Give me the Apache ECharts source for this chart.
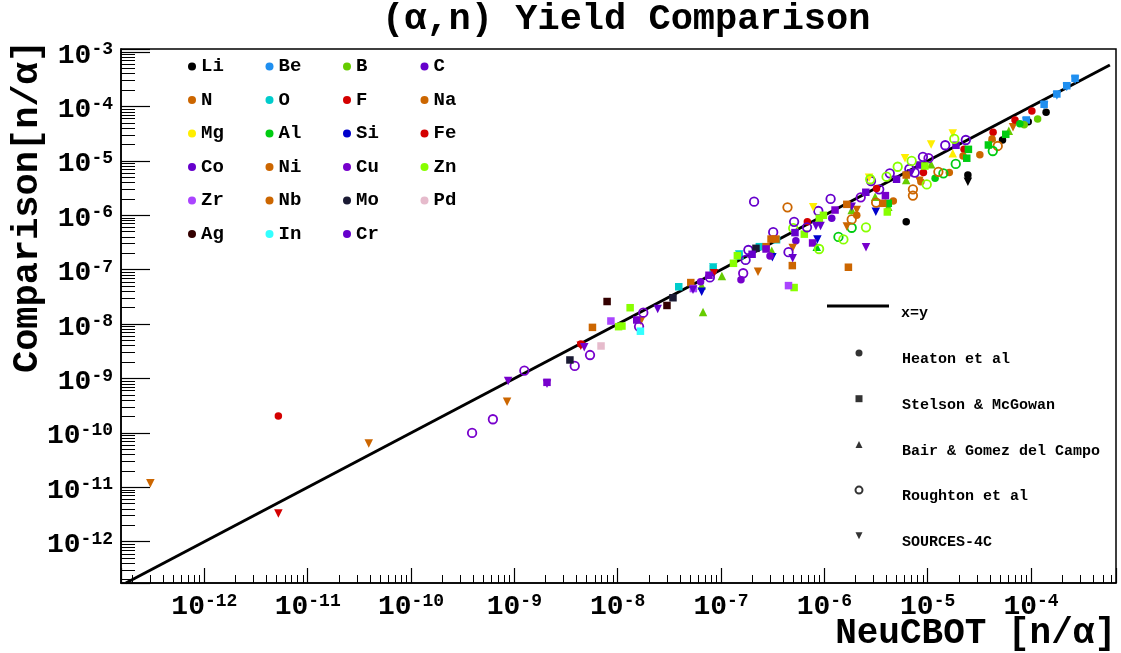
<!DOCTYPE html>
<html>
<head>
<meta charset="utf-8">
<script src="https://cdn.jsdelivr.net/npm/echarts@6/dist/echarts.min.js"></script>
<style>
html, body { margin: 0; padding: 0; background: #fff; }
#chart { width: 1121px; height: 653px; }
</style>
</head>
<body>
<div id="chart"></div>
<script>
(function() {

	// elements and their marker colours
	var elements = ['Li', 'Be', 'B', 'C', 'N', 'O', 'F', 'Na', 'Mg', 'Al', 'Si', 'Fe',
		'Co', 'Ni', 'Cu', 'Zn', 'Zr', 'Nb', 'Mo', 'Pd', 'Ag', 'In', 'Cr'];
	var elementColors = ['#000000', '#1f8ff0', '#66cc00', '#6600cc', '#cc6600', '#00cccc', '#d40000', '#cc6600',
		'#ffee00', '#00cc11', '#0000cc', '#d40000', '#6600cc', '#cc6600', '#7700cc', '#88ff00',
		'#aa44ff', '#cc6600', '#1a1a33', '#e6bbcc', '#330000', '#33ffff', '#6600cc'];

	// [NeuCBOT, comparison, element]
	var heaton = [
		[5.2e-12, 2.05e-10, 'F'], [4.4e-9, 4.3e-9, 'Fe'], [6.35e-8, 6.0e-8, 'Cu'], [1.56e-7, 6.5e-8, 'Cu'],
		[2.98e-7, 1.79e-7, 'Cu'], [5.3e-7, 3.4e-7, 'Co'], [6.85e-7, 7.6e-7, 'Fe'], [1.18e-6, 8.8e-7, 'Co'],
		[2.06e-6, 1.0e-6, 'Na'], [3.2e-6, 3.1e-6, 'F'], [4.65e-6, 1.83e-6, 'Na'], [6.2e-6, 7.6e-7, 'Li'],
		[8.6e-6, 4.15e-6, 'Na'], [9.1e-6, 6.1e-6, 'F'], [1.18e-5, 4.8e-6, 'Al'], [1.62e-5, 6.1e-6, 'Na'],
		[2.2e-5, 1.23e-5, 'Na'], [2.25e-5, 1.63e-5, 'F'], [2.45e-5, 5.5e-6, 'Li'], [3.2e-5, 1.3e-5, 'Na'],
		[4.2e-5, 2.53e-5, 'Na'], [4.3e-5, 3.36e-5, 'F'], [5.3e-5, 2.42e-5, 'Li'], [7.0e-5, 5.65e-5, 'F'],
		[7.8e-5, 4.8e-5, 'Al'], [8.6e-5, 4.6e-5, 'B'], [9.4e-5, 5.26e-5, 'Li'], [1.02e-4, 8.26e-5, 'F'],
		[1.16e-4, 5.9e-5, 'B'], [1.4e-4, 7.8e-5, 'Li']
	];
	var stelson = [
		[2.07e-9, 8.5e-10, 'Cu'], [3.45e-9, 2.19e-9, 'Mo'], [5.7e-9, 8.7e-9, 'Nb'], [6.9e-9, 3.96e-9, 'Pd'],
		[7.9e-9, 2.6e-8, 'Ag'], [8.6e-9, 1.14e-8, 'Zr'], [1.02e-8, 8.96e-9, 'Zn'], [1.1e-8, 9.2e-9, 'Zn'],
		[1.32e-8, 2.0e-8, 'Zn'], [1.53e-8, 1.19e-8, 'Cu'], [1.66e-8, 7.4e-9, 'In'], [3.0e-8, 2.2e-8, 'Ag'],
		[3.43e-8, 3.05e-8, 'Mo'], [3.9e-8, 4.86e-8, 'O'], [5.1e-8, 5.8e-8, 'Ni'], [5.4e-8, 4.5e-8, 'Zr'],
		[7.65e-8, 7.9e-8, 'Cu'], [8.4e-8, 1.04e-7, 'O'], [1.32e-7, 1.31e-7, 'Zn'], [1.44e-7, 1.81e-7, 'Zn'],
		[1.5e-7, 1.79e-7, 'O'], [2.0e-7, 1.92e-7, 'Cr'], [2.18e-7, 2.47e-7, 'Mo'], [2.35e-7, 2.65e-7, 'O'],
		[2.73e-7, 2.65e-7, 'Ni'], [2.73e-7, 2.4e-7, 'Cu'], [3.05e-7, 3.66e-7, 'Ni'], [3.4e-7, 3.66e-7, 'Nb'],
		[3.45e-7, 3.55e-7, 'O'], [4.5e-7, 5.1e-8, 'Zr'], [4.9e-7, 1.19e-7, 'Nb'], [5.1e-7, 4.7e-8, 'Zn'],
		[5.2e-7, 4.8e-7, 'Cr'], [6.4e-7, 4.5e-7, 'Zn'], [7.7e-7, 3.1e-7, 'Cu'], [8.95e-7, 8.8e-7, 'Zn'],
		[9.8e-7, 1.0e-6, 'Zn'], [1.27e-6, 1.25e-6, 'Cu'], [1.65e-6, 1.59e-6, 'Nb'], [1.71e-6, 1.11e-7, 'Ni'],
		[2.52e-6, 2.65e-6, 'Co'], [3.67e-6, 1.66e-6, 'Ni'], [3.9e-6, 2.3e-6, 'Cu'], [4.07e-6, 1.15e-6, 'Zn'],
		[4.16e-6, 1.66e-6, 'Al'], [5.0e-6, 4.6e-6, 'C'], [6.2e-6, 5.5e-6, 'Ni'], [8.3e-6, 8.4e-6, 'C'],
		[9.4e-6, 8.05e-6, 'Zn'], [1.88e-5, 1.94e-5, 'C'], [2.39e-5, 1.12e-5, 'Al'], [2.48e-5, 1.63e-5, 'Al'],
		[3.87e-5, 1.96e-5, 'Al'], [5.7e-5, 3.08e-5, 'Al'], [9.0e-5, 5.65e-5, 'Be'], [1.34e-4, 1.1e-4, 'Be'],
		[1.78e-4, 1.7e-4, 'Be'], [2.22e-4, 2.41e-4, 'Be'], [2.67e-4, 3.3e-4, 'Be']
	];
	var bair = [
		[6.5e-8, 5.1e-8, 'B'], [6.7e-8, 1.67e-8, 'B'], [1.02e-7, 7.65e-8, 'B'], [1.53e-7, 1.9e-7, 'O'],
		[3.1e-7, 2.23e-7, 'B'], [8.45e-7, 2.65e-7, 'Al'], [1.84e-6, 1.25e-6, 'B'], [3.1e-6, 2.2e-6, 'B'],
		[4.16e-6, 1.44e-6, 'B'], [6.2e-6, 4.46e-6, 'B'], [1.08e-5, 8.7e-6, 'B'], [1.75e-5, 1.38e-5, 'Mg'],
		[4.2e-5, 2.75e-5, 'B'], [6.1e-5, 3.6e-5, 'B']
	];
	var roughton = [
		[3.9e-10, 1.0e-10, 'Cu'], [6.2e-10, 1.78e-10, 'Cu'], [1.25e-9, 1.39e-9, 'Cu'], [3.84e-9, 1.7e-9, 'Cu'],
		[5.4e-9, 2.7e-9, 'Cu'], [1.61e-8, 9.0e-9, 'Cu'], [1.77e-8, 1.62e-8, 'Cu'], [7.8e-8, 7.2e-8, 'Co'],
		[1.64e-7, 8.6e-8, 'Cu'], [1.73e-7, 1.51e-7, 'Co'], [1.84e-7, 2.3e-7, 'Co'], [2.09e-7, 1.78e-6, 'C'],
		[3.2e-7, 4.9e-7, 'Co'], [4.4e-7, 1.4e-6, 'N'], [4.5e-7, 2.1e-7, 'Cr'], [5.0e-7, 5.8e-7, 'Zn'],
		[5.1e-7, 7.6e-7, 'Cr'], [6.8e-7, 6.0e-7, 'Cr'], [8.75e-7, 1.2e-6, 'C'], [8.9e-7, 2.4e-7, 'Zn'],
		[1.15e-6, 2.0e-6, 'C'], [1.37e-6, 4.0e-7, 'Al'], [1.53e-6, 3.6e-7, 'Zn'], [1.84e-6, 5.9e-7, 'Al'],
		[1.84e-6, 8.4e-7, 'Ni'], [2.25e-6, 2.14e-6, 'Cu'], [2.53e-6, 6.0e-7, 'Zn'], [2.78e-6, 4.6e-6, 'Zn'],
		[2.83e-6, 4.27e-6, 'C'], [3.17e-6, 1.71e-6, 'Ni'], [3.4e-6, 3.0e-6, 'C'], [4.0e-6, 5.13e-6, 'Zn'],
		[4.3e-6, 5.9e-6, 'C'], [5.13e-6, 7.8e-6, 'Zn'], [6.65e-6, 7.1e-6, 'Co'], [7.0e-6, 1.0e-5, 'Zn'],
		[7.2e-6, 3.0e-6, 'N'], [7.2e-6, 2.3e-6, 'Ni'], [7.5e-6, 6.1e-6, 'Cr'], [9.0e-6, 1.19e-5, 'C'],
		[9.8e-6, 3.7e-6, 'Zn'], [1.02e-5, 1.12e-5, 'Cu'], [1.27e-5, 6.3e-6, 'Ni'], [1.42e-5, 5.9e-6, 'Al'],
		[1.48e-5, 1.94e-5, 'Co'], [1.81e-5, 2.53e-5, 'Zn'], [1.87e-5, 8.8e-6, 'Al'], [2.34e-5, 2.42e-5, 'C'],
		[4.27e-5, 1.52e-5, 'Al'], [4.77e-5, 1.88e-5, 'N']
	];
	var sources4c = [
		[3.0e-13, 1.19e-11, 'Nb'], [5.2e-12, 3.3e-12, 'Fe'], [3.9e-11, 6.4e-11, 'Ni'], [8.5e-10, 3.75e-10, 'Nb'],
		[8.7e-10, 9.0e-10, 'Cu'], [2.07e-9, 8.0e-10, 'Cu'], [4.4e-9, 4.0e-9, 'Fe'], [4.75e-9, 3.75e-9, 'Cu'],
		[1.68e-8, 1.14e-8, 'Ni'], [2.44e-8, 1.9e-8, 'Cr'], [5.36e-8, 4.3e-8, 'Cr'], [6.5e-8, 3.94e-8, 'Si'],
		[8.4e-8, 1.1e-7, 'O'], [8.55e-8, 8.6e-8, 'Fe'], [1.5e-7, 1.9e-7, 'O'], [2.28e-7, 9.2e-8, 'Ni'],
		[3.14e-7, 1.69e-7, 'Si'], [4.94e-7, 2.5e-7, 'Nb'], [4.94e-7, 1.62e-7, 'Cr'], [7.8e-7, 1.4e-6, 'Mg'],
		[8.3e-7, 6.36e-7, 'Co'], [8.56e-7, 3.6e-7, 'Si'], [9.2e-7, 6.36e-7, 'Cr'], [1.65e-6, 6.2e-7, 'Ni'],
		[1.84e-6, 1.44e-6, 'Co'], [2.06e-6, 1.25e-6, 'Na'], [2.53e-6, 2.58e-7, 'Cu'], [2.71e-6, 4.9e-6, 'Mg'],
		[3.15e-6, 1.16e-6, 'Si'], [6.04e-6, 1.12e-5, 'Mg'], [6.9e-6, 5.9e-6, 'C'], [8.3e-6, 4.3e-6, 'Na'],
		[1.08e-5, 2.0e-5, 'Mg'], [1.75e-5, 3.2e-5, 'Mg'], [2.45e-5, 4.15e-6, 'Li'], [6.7e-5, 4.15e-5, 'N'],
		[9.0e-5, 5.3e-5, 'Be'], [1.34e-4, 1.04e-4, 'Be'], [1.78e-4, 1.6e-4, 'Be'], [2.22e-4, 2.28e-4, 'Be'],
		[2.67e-4, 3.1e-4, 'Be']
	];

	// x=y reference line ends
	var diagonal = [[1.74e-13, 1.74e-13], [5.8e-4, 5.8e-4]];

	var FONT = 'Liberation Mono, Courier New, monospace';
	var DOWN_TRI = 'path://M0,0 L10,0 L5,10 Z';

	var sourceDefs = [
		{ name: 'Heaton et al', data: heaton, symbol: 'circle', rotate: 0, size: 7.5, hollow: false },
		{ name: 'Stelson & McGowan', data: stelson, symbol: 'rect', rotate: 0, size: 7.5, hollow: false },
		{ name: 'Bair & Gomez del Campo', data: bair, symbol: 'triangle', rotate: 0, size: 8.5, hollow: false },
		{ name: 'Roughton et al', data: roughton, symbol: 'circle', rotate: 0, size: 8.5, hollow: true },
		{ name: 'SOURCES-4C', data: sources4c, symbol: 'triangle', rotate: 180, size: 8.5, hollow: false }
	];

	function powLabel(v) {
		var e = Math.log10(v);
		var r = Math.round(e);
		if (Math.abs(e - r) > 1e-6) return '';
		return '{b|10}{s|' + r + '}';
	}

	var labelRich = {
		b: { fontFamily: FONT, fontWeight: 'bold', fontSize: 28, lineHeight: 30, color: '#000' },
		s: { fontFamily: FONT, fontWeight: 'bold', fontSize: 18, lineHeight: 18, verticalAlign: 'top', color: '#000' }
	};

	var series = [{
		name: 'x=y',
		type: 'line',
		data: diagonal,
		showSymbol: false,
		symbol: 'none',
		color: '#000',
		lineStyle: { color: '#000', width: 3 },
		silent: true,
		z: 1
	}];

	elements.forEach(function(el, i) {
		var pts = [];
		sourceDefs.forEach(function(src) {
			src.data.forEach(function(p) {
				if (p[2] !== el) return;
				var item = {
					value: [p[0], p[1]],
					symbol: src.symbol,
					symbolRotate: src.rotate,
					symbolSize: src.size
				};
				if (src.hollow) {
					item.itemStyle = { color: 'rgba(0,0,0,0)', borderColor: elementColors[i], borderWidth: 1.8 };
				}
				pts.push(item);
			});
		});
		series.push({
			name: el,
			type: 'scatter',
			data: pts,
			itemStyle: { color: elementColors[i], opacity: 1 },
			z: 2
		});
	});

	// marker-shape legend entries
	sourceDefs.forEach(function(src) {
		series.push({
			name: src.name,
			type: 'scatter',
			data: [],
			symbol: src.hollow ? 'emptyCircle' : src.symbol,
			symbolSize: 7,
			itemStyle: { color: '#000', borderColor: '#000', borderWidth: src.hollow ? 1.5 : 0 }
		});
	});

	function shiftedName(name) {
		return '{t|' + name + '}';
	}

	var option = {
		animation: false,
		backgroundColor: '#fff',
		title: {
			text: '(α,n) Yield Comparison',
			left: 382,
			top: 1,
			padding: 0,
			textStyle: { fontFamily: FONT, fontWeight: 'bold', fontSize: 37, color: '#000' }
		},
		grid: {
			left: 121, right: 5, top: 49, bottom: 70,
			show: true, borderColor: '#000', borderWidth: 1.5, backgroundColor: '#fff'
		},
		legend: [{
			data: elements.map(function(e) { return { name: e, icon: 'circle' }; }),
			orient: 'horizontal',
			left: 188,
			top: 57,
			width: 300,
			padding: 0,
			itemWidth: 8,
			itemHeight: 8,
			itemGap: 14.5,
			selectedMode: false,
			textStyle: { fontFamily: FONT, fontWeight: 'bold', fontSize: 19, width: 50, lineHeight: 19, color: '#000' }
		}, {
			data: [{ name: 'x=y', icon: 'rect' }],
			left: 827,
			top: 291,
			padding: 0,
			itemWidth: 62,
			itemHeight: 3,
			selectedMode: false,
			formatter: shiftedName,
			textStyle: {
				color: '#000',
				rich: { t: { fontFamily: FONT, fontWeight: 'bold', fontSize: 15, lineHeight: 16, padding: [15, 0, 0, 7], color: '#000' } }
			}
		}, {
			data: sourceDefs.map(function(s) {
				return s.rotate ? { name: s.name, icon: DOWN_TRI } : { name: s.name };
			}),
			orient: 'vertical',
			left: 854.5,
			top: 339,
			padding: 0,
			itemWidth: 7,
			itemHeight: 7,
			itemGap: 17.7,
			selectedMode: false,
			formatter: shiftedName,
			textStyle: {
				color: '#000',
				rich: { t: { fontFamily: FONT, fontWeight: 'bold', fontSize: 15, lineHeight: 16, padding: [13, 0, 0, 34.5], color: '#000' } }
			}
		}],
		xAxis: {
			type: 'log',
			logBase: 10,
			min: 1.56e-13,
			max: 6.65e-4,
			splitNumber: 10,
			name: 'NeuCBOT [n/α]',
			nameLocation: 'end',
			nameGap: 0,
			nameMoveOverlap: false,
			nameTextStyle: {
				fontFamily: FONT, fontWeight: 'bold', fontSize: 36, lineHeight: 37, color: '#000',
				align: 'right', verticalAlign: 'top', padding: [32, 0, 0, 0]
			},
			axisLine: { lineStyle: { color: '#000', width: 1.5 } },
			axisTick: { inside: true, length: 15, lineStyle: { color: '#000', width: 1.2 } },
			minorTick: { show: true, splitNumber: 9, length: 8, lineStyle: { color: '#000', width: 1 } },
			splitLine: { show: false },
			axisLabel: { formatter: powLabel, margin: 9, rich: labelRich, hideOverlap: false }
		},
		yAxis: {
			type: 'log',
			logBase: 10,
			min: 1.74e-13,
			max: 1.14e-3,
			splitNumber: 10,
			name: 'Comparison[n/α]',
			nameLocation: 'end',
			nameRotate: 90,
			nameGap: 9,
			nameMoveOverlap: false,
			nameTextStyle: {
				fontFamily: FONT, fontWeight: 'bold', fontSize: 37, lineHeight: 38, color: '#000',
				align: 'right', verticalAlign: 'bottom', padding: [0, 0, 74, 0]
			},
			axisLine: { lineStyle: { color: '#000', width: 1.5 } },
			axisTick: { inside: true, length: 29, lineStyle: { color: '#000', width: 1.2 } },
			minorTick: { show: true, splitNumber: 9, length: 14, lineStyle: { color: '#000', width: 1 } },
			splitLine: { show: false },
			axisLabel: { formatter: powLabel, margin: 8, padding: [7, 0, 0, 0], rich: labelRich, hideOverlap: false }
		},
		series: series
	};

	var chart = echarts.init(document.getElementById('chart'));
	chart.setOption(option);

})();
</script>
</body>
</html>
